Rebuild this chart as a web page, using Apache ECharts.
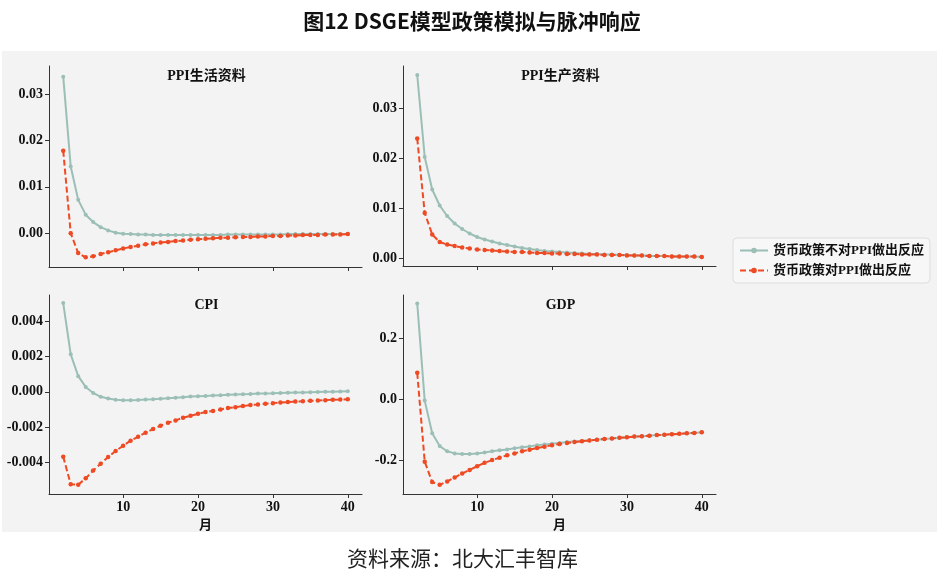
<!DOCTYPE html>
<html>
<head>
<meta charset="utf-8">
<script src="https://cdn.jsdelivr.net/npm/echarts@6/dist/echarts.min.js"></script>
<style>html,body{margin:0;padding:0;background:#fff;}#c{width:944px;height:579px;}</style>
</head>
<body>
<div id="c"></div>
<script>
const months = [2,3,4,5,6,7,8,9,10,11,12,13,14,15,16,17,18,19,20,21,22,23,24,25,26,27,28,29,30,31,32,33,34,35,36,37,38,39,40];
const seriesNames = ['货币政策不对PPI做出反应', '货币政策对PPI做出反应'];
const panelTitles = ['PPI生活资料', 'PPI生产资料', 'CPI', 'GDP'];
const xTicks = [10, 20, 30, 40];
const yTicksPpiLife = [0, 0.01, 0.02, 0.03];
const yTicksPpiProd = [0, 0.01, 0.02, 0.03];
const yTicksCpi = [-0.004, -0.002, 0, 0.002, 0.004];
const yTicksGdp = [-0.2, 0, 0.2];

const ppiLifeNo = [0.0338,0.0144,0.0072,0.0040,0.0024,0.0013,0.0006,0.0001,-0.0001,-0.0002,-0.0003,-0.0003,-0.0004,-0.0004,-0.0004,-0.0004,-0.0004,-0.0004,-0.0004,-0.0004,-0.0004,-0.0004,-0.0003,-0.0003,-0.0003,-0.0003,-0.0003,-0.0003,-0.0003,-0.0003,-0.0002,-0.0002,-0.0002,-0.0002,-0.0002,-0.0002,-0.0002,-0.0002,-0.0002];
const ppiLifeYes = [0.0178,0.0000,-0.0043,-0.0052,-0.0050,-0.0045,-0.0041,-0.0037,-0.0033,-0.0030,-0.0027,-0.0024,-0.0022,-0.0020,-0.0019,-0.0017,-0.0016,-0.0014,-0.0013,-0.0012,-0.0011,-0.0010,-0.0010,-0.0009,-0.0008,-0.0008,-0.0007,-0.0007,-0.0006,-0.0006,-0.0005,-0.0005,-0.0004,-0.0004,-0.0004,-0.0003,-0.0003,-0.0003,-0.0002];
const ppiProdNo = [0.0367,0.0203,0.0138,0.0106,0.0085,0.0070,0.0059,0.0050,0.0043,0.0038,0.0034,0.0030,0.0027,0.0024,0.0021,0.0019,0.0017,0.0015,0.0014,0.0013,0.0012,0.0011,0.0010,0.0009,0.0009,0.0008,0.0008,0.0007,0.0007,0.0006,0.0006,0.0005,0.0005,0.0005,0.0004,0.0004,0.0004,0.0004,0.0003];
const ppiProdYes = [0.0240,0.0091,0.0048,0.0033,0.0028,0.0025,0.0022,0.0020,0.0018,0.0017,0.0016,0.0015,0.0014,0.0013,0.0013,0.0012,0.0011,0.0011,0.0010,0.0010,0.0009,0.0009,0.0008,0.0008,0.0008,0.0007,0.0007,0.0007,0.0006,0.0006,0.0006,0.0005,0.0005,0.0005,0.0004,0.0004,0.0004,0.0004,0.0003];
const cpiNo = [0.00504,0.00213,0.00089,0.00028,-0.00006,-0.00028,-0.00038,-0.00045,-0.00047,-0.00047,-0.00046,-0.00044,-0.00042,-0.00039,-0.00036,-0.00033,-0.00030,-0.00027,-0.00025,-0.00023,-0.00021,-0.00019,-0.00017,-0.00015,-0.00013,-0.00012,-0.00010,-0.00009,-0.00008,-0.00006,-0.00005,-0.00004,-0.00003,-0.00002,-0.00001,0.00000,0.00001,0.00002,0.00003];
const cpiYes = [-0.00368,-0.00525,-0.00527,-0.00491,-0.00447,-0.00408,-0.00370,-0.00336,-0.00306,-0.00277,-0.00255,-0.00232,-0.00211,-0.00192,-0.00175,-0.00162,-0.00147,-0.00136,-0.00125,-0.00115,-0.00108,-0.00100,-0.00092,-0.00087,-0.00081,-0.00075,-0.00072,-0.00068,-0.00064,-0.00060,-0.00058,-0.00055,-0.00053,-0.00051,-0.00049,-0.00047,-0.00045,-0.00044,-0.00042];
const gdpNo = [0.314,-0.004,-0.111,-0.153,-0.170,-0.177,-0.179,-0.179,-0.177,-0.174,-0.170,-0.167,-0.164,-0.160,-0.157,-0.154,-0.150,-0.148,-0.145,-0.143,-0.140,-0.138,-0.136,-0.134,-0.132,-0.130,-0.128,-0.126,-0.124,-0.122,-0.121,-0.119,-0.117,-0.116,-0.114,-0.113,-0.111,-0.110,-0.108];
const gdpYes = [0.087,-0.204,-0.271,-0.280,-0.269,-0.256,-0.243,-0.231,-0.219,-0.208,-0.199,-0.191,-0.183,-0.177,-0.170,-0.165,-0.159,-0.155,-0.150,-0.146,-0.143,-0.140,-0.137,-0.135,-0.132,-0.130,-0.128,-0.126,-0.124,-0.122,-0.121,-0.119,-0.117,-0.116,-0.114,-0.113,-0.111,-0.110,-0.108];

const FONT = "'Liberation Serif','Noto Sans CJK SC',serif";
const BLUE = '#9bbfb6';
const RED = '#ee4a24';

const panels = [
  {no: ppiLifeNo, yes: ppiLifeYes, ticks: yTicksPpiLife, min: -0.0073, max: 0.0361, dec: 2, grid: {left: 49, top: 66, width: 313, height: 201}, xl: false},
  {no: ppiProdNo, yes: ppiProdYes, ticks: yTicksPpiProd, min: -0.0015, max: 0.0385, dec: 2, grid: {left: 403, top: 66, width: 313, height: 200}, xl: false},
  {no: cpiNo, yes: cpiYes, ticks: yTicksCpi, min: -0.0058, max: 0.0055, dec: 3, grid: {left: 49, top: 295, width: 313, height: 199}, xl: true},
  {no: gdpNo, yes: gdpYes, ticks: yTicksGdp, min: -0.31, max: 0.342, dec: 1, grid: {left: 403, top: 295, width: 313, height: 199}, xl: true}
];

const grids = [], xAxes = [], yAxes = [], series = [], titles = [];
titles.push({text: '图12 DSGE模型政策模拟与脉冲响应', left: 'center', top: 6,
  textStyle: {fontFamily: "'Noto Sans CJK SC'", fontWeight: 'bold', fontSize: 21, color: '#111'}});
titles.push({text: '资料来源：北大汇丰智库', left: 342, top: 543,
  textStyle: {fontFamily: "'Noto Sans CJK SC'", fontWeight: 'normal', fontSize: 21, color: '#222'}});

panels.forEach((p, i) => {
  grids.push(Object.assign({containLabel: false}, p.grid));
  titles.push({text: panelTitles[i], left: p.grid.left + p.grid.width / 2 - 4, top: p.grid.top - 2, textAlign: 'center',
    textStyle: {fontFamily: FONT, fontWeight: 'bold', fontSize: 14, color: '#111'}});
  xAxes.push({
    type: 'value', gridIndex: i, min: 0.1, max: 41.9,
    name: p.xl ? '月' : '', nameLocation: 'middle', nameGap: 25,
    nameTextStyle: {fontFamily: FONT, fontWeight: 'bold', fontSize: 13, color: '#111'},
    axisLine: {onZero: false, lineStyle: {color: '#333', width: 1}},
    axisTick: {show: true, length: 4, customValues: xTicks, lineStyle: {color: '#333'}},
    axisLabel: {show: p.xl, customValues: xTicks, margin: 6, fontFamily: FONT, fontWeight: 'bold', fontSize: 14, color: '#111'},
    splitLine: {show: false}
  });
  yAxes.push({
    type: 'value', gridIndex: i, min: p.min, max: p.max,
    axisLine: {show: true, onZero: false, lineStyle: {color: '#333', width: 1}},
    axisTick: {show: true, length: 4, customValues: p.ticks, lineStyle: {color: '#333'}},
    axisLabel: {customValues: p.ticks, margin: 6, fontFamily: FONT, fontWeight: 'bold', fontSize: 14, color: '#111',
      formatter: v => Number(v).toFixed(p.dec)},
    splitLine: {show: false}
  });
  series.push({
    name: seriesNames[0], type: 'line', xAxisIndex: i, yAxisIndex: i,
    data: months.map((m, k) => [m, p.no[k]]),
    symbol: 'circle', symbolSize: 4, showSymbol: true,
    lineStyle: {color: BLUE, width: 2, type: 'solid'},
    itemStyle: {color: BLUE}, z: 2, animation: false
  });
  series.push({
    name: seriesNames[1], type: 'line', xAxisIndex: i, yAxisIndex: i,
    data: months.map((m, k) => [m, p.yes[k]]),
    symbol: 'circle', symbolSize: 4.5, showSymbol: true,
    lineStyle: {color: RED, width: 2, type: [6, 3]},
    itemStyle: {color: RED}, z: 3, animation: false
  });
});

const chart = echarts.init(document.getElementById('c'), null, {renderer: 'canvas'});
chart.setOption({
  animation: false,
  backgroundColor: '#ffffff',
  graphic: [{type: 'rect', z: -10, silent: true, shape: {x: 2, y: 51, width: 935, height: 481}, style: {fill: '#f3f3f3'}}],
  title: titles,
  grid: grids,
  xAxis: xAxes,
  yAxis: yAxes,
  legend: {
    data: seriesNames, orient: 'vertical', left: 733, top: 238,
    itemWidth: 28, itemHeight: 7, itemGap: 7,
    padding: [6, 6, 6, 6],
    backgroundColor: '#f7f7f7', borderColor: '#dddddd', borderWidth: 1, borderRadius: 4,
    textStyle: {fontFamily: FONT, fontWeight: 'bold', fontSize: 13, color: '#111'}
  },
  series: series
});
</script>
</body>
</html>
